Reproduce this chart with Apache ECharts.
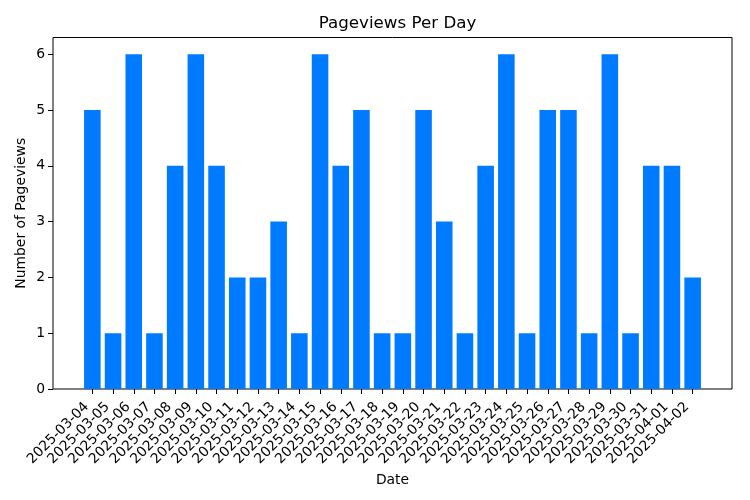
<!DOCTYPE html>
<html>
<head>
<meta charset="utf-8">
<script src="https://cdn.jsdelivr.net/npm/echarts@6/dist/echarts.min.js"></script>
<style>
html, body { margin: 0; padding: 0; background: #fff; }
#chart { width: 750px; height: 500px; }
</style>
</head>
<body>
<div id="chart"></div>
<script>
// data
var dates = ["2025-03-04","2025-03-05","2025-03-06","2025-03-07","2025-03-08","2025-03-09",
    "2025-03-10","2025-03-11","2025-03-12","2025-03-13","2025-03-14","2025-03-15",
    "2025-03-16","2025-03-17","2025-03-18","2025-03-19","2025-03-20","2025-03-21",
    "2025-03-22","2025-03-23","2025-03-24","2025-03-25","2025-03-26","2025-03-27",
    "2025-03-28","2025-03-29","2025-03-30","2025-03-31","2025-04-01","2025-04-02"];
var pageviews = [5,1,6,1,4,6,4,2,2,3,1,6,4,5,1,1,5,3,1,4,6,1,5,5,1,6,1,4,4,2];
var yTicks = [0,1,2,3,4,5,6];
var yMax = 6.3;

var font = "DejaVu Sans";
var chart = echarts.init(document.getElementById("chart"), null, {renderer: "canvas"});

var option = {
    animation: false,
    backgroundColor: "#fff",
    title: {
        text: "Pageviews Per Day",
        left: 392.5,
        textAlign: "center",
        top: 10,
        textStyle: {fontFamily: font, fontSize: 16.7, fontWeight: "normal", color: "#000"}
    },
    grid: [
        // outer frame + y axis
        {left: 53, right: 18, top: 37.5, bottom: 111, show: true, borderColor: "#000", borderWidth: 1, backgroundColor: "transparent", containLabel: false},
        // bars (matplotlib leaves a margin on both sides)
        {left: 82, right: 47, top: 37.5, bottom: 111, containLabel: false}
    ],
    xAxis: [
        {gridIndex: 0, type: "value", min: 0, max: 1, show: false},
        {
            gridIndex: 1, type: "category", data: dates,
            name: "Date", nameLocation: "middle", nameGap: 80,
            nameTextStyle: {fontFamily: font, fontSize: 13.9, color: "#000"},
            axisLine: {show: false},
            axisTick: {show: true, alignWithLabel: true, length: 5, lineStyle: {color: "#000"}},
            axisLabel: {rotate: 45, interval: 0, margin: 10, padding: [0, 8, 0, 0], fontFamily: font, fontSize: 13.9, color: "#000"},
            splitLine: {show: false}
        }
    ],
    yAxis: [
        {
            gridIndex: 0, type: "value", min: 0, max: yMax, interval: 1,
            name: "Number of Pageviews", nameLocation: "middle", nameGap: 25,
            nameMoveOverlap: false,
            nameTextStyle: {fontFamily: font, fontSize: 13.9, color: "#000"},
            axisLine: {show: false},
            axisTick: {show: true, length: 5, customValues: yTicks, lineStyle: {color: "#000"}},
            axisLabel: {margin: 8, customValues: yTicks, fontFamily: font, fontSize: 13.9, color: "#000"},
            splitLine: {show: false}
        },
        {gridIndex: 1, type: "value", min: 0, max: yMax, show: false, splitLine: {show: false}}
    ],
    series: [{
        type: "bar",
        xAxisIndex: 1,
        yAxisIndex: 1,
        data: pageviews,
        barWidth: "80%",
        itemStyle: {color: "#007bff"}
    }]
};
chart.setOption(option);
</script>
</body>
</html>
